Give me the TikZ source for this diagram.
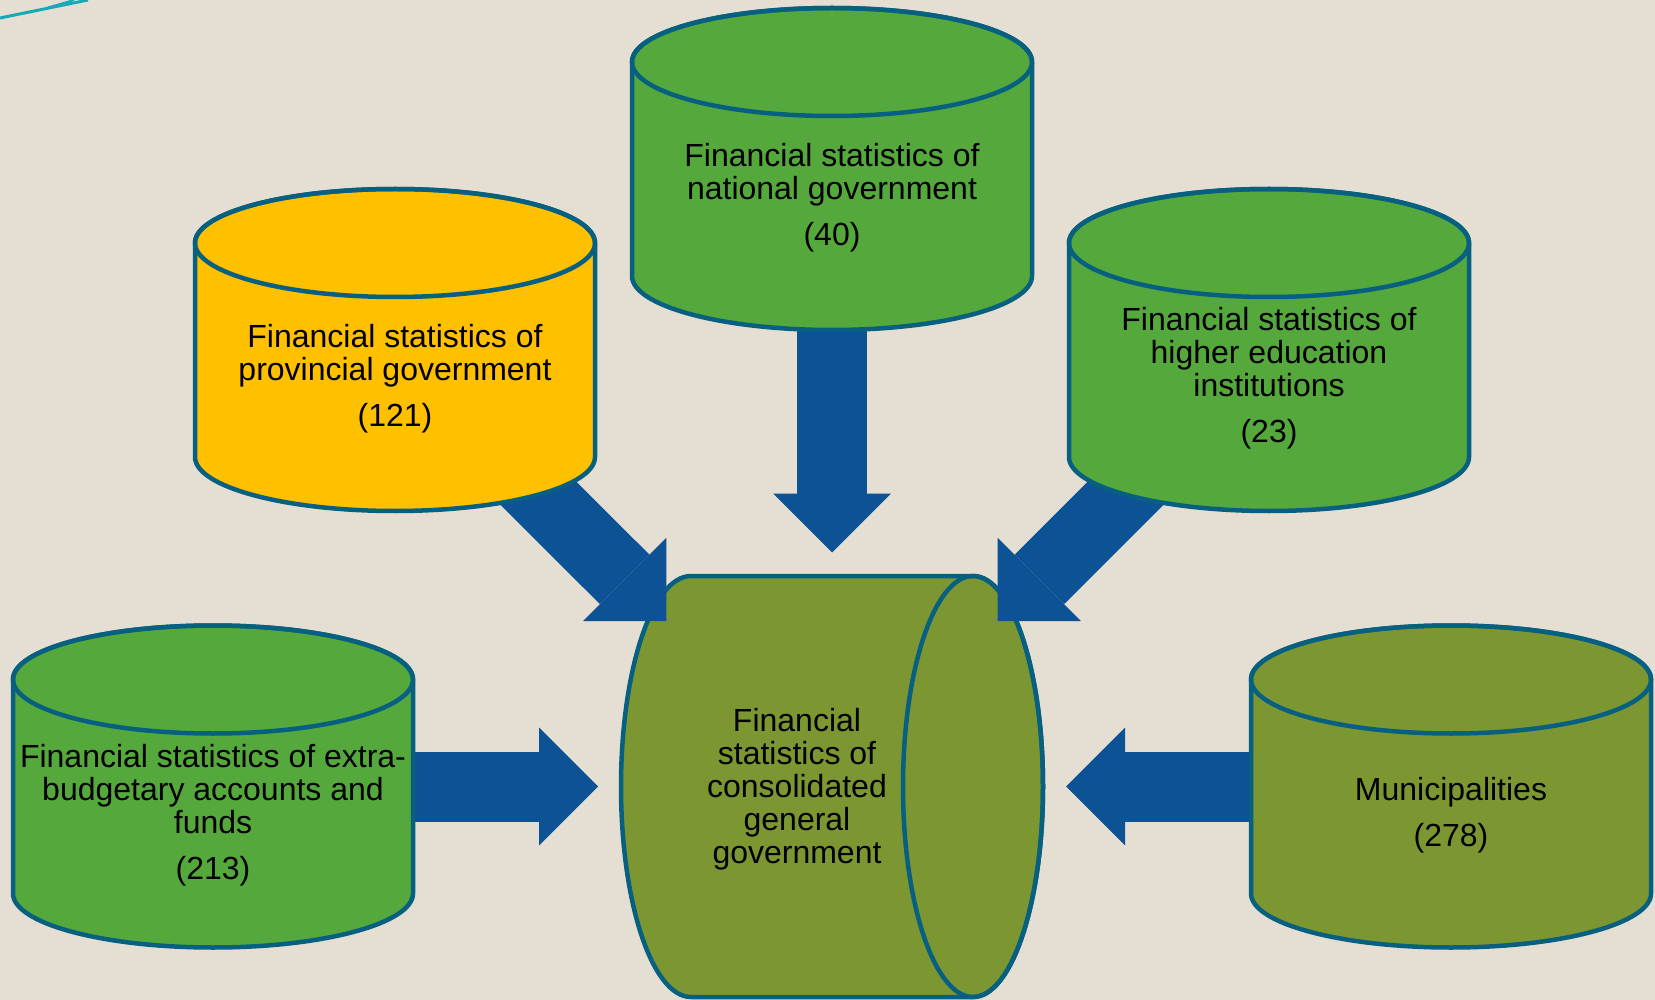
\documentclass[tikz,border=0pt]{standalone}
\usepackage{fontspec}
\setmainfont{Liberation Sans}
\usetikzlibrary{arrows.meta}
\definecolor{paper}{RGB}{229,222,210}
\definecolor{rimteal}{RGB}{8,96,128}
\definecolor{leaf}{RGB}{84,168,60}
\definecolor{oliv}{RGB}{124,151,50}
\definecolor{gold}{RGB}{255,192,0}
\definecolor{navy}{RGB}{14,82,150}
\definecolor{swoosh}{RGB}{22,170,185}
\newcommand{\dbcyl}[2]{%
\path[rim,fill=#2] (#1) ++(-200,-107) -- ++(0,214) arc[start angle=180,end angle=0,x radius=200,y radius=54] -- ++(0,-214) arc[start angle=0,end angle=-180,x radius=200,y radius=54] -- cycle;
\draw[rim] (#1) ++(0,-107) ellipse[x radius=200,y radius=54];}

\begin{document}
\begin{tikzpicture}[x=0.5pt,y=-0.5pt,
  rim/.style={draw=rimteal,line width=2.25pt},
  txt/.style={align=center,inner sep=0pt,font=\fontsize{16}{16.5}\selectfont},
  bigarrow/.style={draw=navy,line width=35pt,shorten >=117pt,-{Triangle[length=29.5pt,width=59pt,line width=0pt]}}]
\useasboundingbox (0,0) rectangle (1655,1000);
\fill[paper] (0,0) rectangle (1655,1000);
\draw[swoosh,line width=1.5pt] (0,18) -- (88,0);
\draw[swoosh,line width=1pt] (48,7.5) -- (74,0);

\coordinate (cons) at (832,786.5);
\coordinate (nat) at (832,169);
\coordinate (prov) at (395,350);
\coordinate (high) at (1269,350);
\coordinate (extra) at (213,786.5);
\coordinate (muni) at (1451,786.5);

% consolidated drum
\path[rim,fill=oliv] (cons) ++(-141,-210.5) -- ++(282,0) arc[start angle=-90,end angle=90,x radius=70,y radius=210.5] -- ++(-282,0) arc[start angle=90,end angle=270,x radius=70,y radius=210.5] -- cycle;
\draw[rim] (cons) ++(141,0) ellipse[x radius=70,y radius=210.5];
\node[txt] (cons-txt) at (797,789) {Financial\\statistics of\\consolidated\\general\\government};

\draw[bigarrow] (nat) -- (cons);
\draw[bigarrow] (prov) -- (cons);
\draw[bigarrow] (high) -- (cons);
\draw[bigarrow] (extra) -- (cons);
\draw[bigarrow] (muni) -- (cons);

\dbcyl{nat}{leaf}
\node[txt] (nat-txt) at (832,198) {Financial statistics of\\national government\\[6.5pt](40)};

\dbcyl{prov}{gold}
\node[txt] (prov-txt) at (395,379) {Financial statistics of\\provincial government\\[6.5pt](121)};

\dbcyl{high}{leaf}
\node[txt] (high-txt) at (1269,378) {Financial statistics of\\higher education\\institutions\\[6.5pt](23)};

\dbcyl{extra}{leaf}
\node[txt] (extra-txt) at (213,815) {Financial statistics of extra-\\budgetary accounts and\\funds\\[6.5pt](213)};

\dbcyl{muni}{oliv}
\node[txt] (muni-txt) at (1451,815) {Municipalities\\[6.5pt](278)};
\end{tikzpicture}
\end{document}
